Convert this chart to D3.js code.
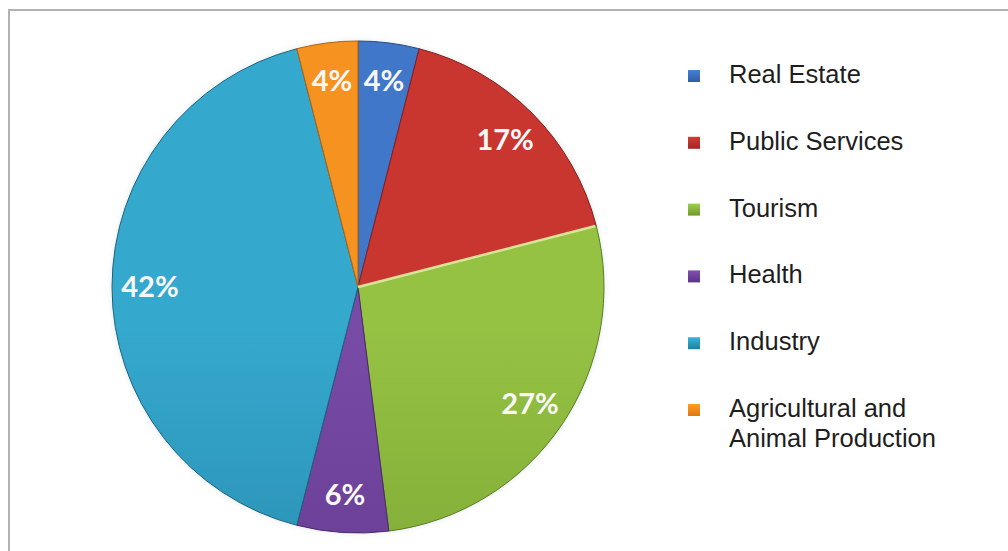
<!DOCTYPE html>
<html>
<head>
<meta charset="utf-8">
<script src="https://cdn.jsdelivr.net/npm/d3@7"></script>
<style>
  html, body { margin: 0; padding: 0; background: #ffffff; }
  svg { display: block; }
</style>
</head>
<body>
<svg id="chart" width="1008" height="551"></svg>
<script>
// Sector shares (percent), drawn clockwise from 12 o'clock
const categories = ["Real Estate", "Public Services", "Tourism", "Health", "Industry", "Agricultural and Animal Production"];
const legendLines = [["Real Estate"], ["Public Services"], ["Tourism"], ["Health"], ["Industry"], ["Agricultural and", "Animal Production"]];
const shares = [4, 17, 27, 6, 42, 4];
const shareLabels = ["4%", "17%", "27%", "6%", "42%", "4%"];
// Fill shading per slice: [lighter top, darker bottom]
const sliceColors = [
  ["#4177c8", "#2f5ca6"],
  ["#c9352f", "#a32727"],
  ["#95c243", "#6f982d"],
  ["#784ba6", "#5c3386"],
  ["#35a8ce", "#227d9e"],
  ["#f6921f", "#df7710"]
];

const W = 1008, H = 551;
const cx = 358, cy = 287, R = 246, labelR = 208;

const svg = d3.select("#chart");

// frame lines along the top and left
svg.append("line").attr("x1", 8).attr("x2", W).attr("y1", 10).attr("y2", 10)
  .attr("stroke", "#b2b2b2").attr("stroke-width", 2);
svg.append("line").attr("x1", 9).attr("x2", 9).attr("y1", 9).attr("y2", H)
  .attr("stroke", "#b2b2b2").attr("stroke-width", 2);

const defs = svg.append("defs");
sliceColors.forEach((c, i) => {
  const g = defs.append("linearGradient")
    .attr("id", "slice-grad-" + i)
    .attr("gradientUnits", "userSpaceOnUse")
    .attr("x1", 0).attr("x2", 0)
    .attr("y1", cy - R).attr("y2", cy + R);
  g.append("stop").attr("offset", "0%").attr("stop-color", c[0]);
  g.append("stop").attr("offset", "100%").attr("stop-color", c[1]);

  const kg = defs.append("linearGradient").attr("id", "key-grad-" + i)
    .attr("x1", 0).attr("x2", 0).attr("y1", 0).attr("y2", 1);
  kg.append("stop").attr("offset", "0%").attr("stop-color", d3.color(c[0]).brighter(0.2));
  kg.append("stop").attr("offset", "100%").attr("stop-color", c[1]);
});

// soft halo round the pie
const halo = defs.append("filter").attr("id", "halo")
  .attr("x", "-10%").attr("y", "-10%").attr("width", "120%").attr("height", "120%");
halo.append("feGaussianBlur").attr("stdDeviation", 2.5);

const pie = d3.pie().sort(null).value(d => d).startAngle(0).endAngle(2 * Math.PI);
const arcs = pie(shares);
const arc = d3.arc().innerRadius(0).outerRadius(R);
const labelArc = d3.arc().innerRadius(labelR).outerRadius(labelR);

const g = svg.append("g").attr("transform", `translate(${cx},${cy})`);

g.append("circle").attr("r", R + 1).attr("fill", "#a9bcc8").attr("opacity", 0.3)
  .attr("filter", "url(#halo)");

g.selectAll("path.slice")
  .data(arcs)
  .join("path")
  .attr("class", "slice")
  .attr("d", arc)
  .attr("fill", (d, i) => `url(#slice-grad-${i})`)
  .attr("stroke", (d, i) => d3.color(sliceColors[i][1]).darker(0.6))
  .attr("stroke-width", 1)
  .attr("stroke-linejoin", "round");

// bevel highlight along the Tourism slice's leading edge
const tour = arcs[2];
g.append("line")
  .attr("x1", 0).attr("y1", 0)
  .attr("x2", Math.sin(tour.startAngle) * (R - 1))
  .attr("y2", -Math.cos(tour.startAngle) * (R - 1))
  .attr("stroke", "#e4f0a6").attr("stroke-width", 2.5).attr("opacity", 0.9);

g.selectAll("text.share")
  .data(arcs)
  .join("text")
  .attr("class", "share")
  .attr("transform", d => `translate(${labelArc.centroid(d)})`)
  .attr("text-anchor", "middle")
  .attr("dy", "0.36em")
  .attr("font-family", "Lato, 'Open Sans', sans-serif")
  .attr("font-weight", 700)
  .attr("font-size", 29)
  .attr("fill", "#f8f8f8")
  .text((d, i) => shareLabels[i]);

// legend
const legendY = d3.scalePoint().domain(d3.range(categories.length)).range([83, 417]);
const legend = svg.append("g");
const items = legend.selectAll("g.item")
  .data(categories)
  .join("g")
  .attr("class", "item")
  .attr("transform", (d, i) => `translate(0,${legendY(i)})`);

items.append("rect")
  .attr("x", 688).attr("y", -13)
  .attr("width", 12).attr("height", 12)
  .attr("fill", (d, i) => `url(#key-grad-${i})`);

items.append("text")
  .attr("x", 729)
  .attr("font-family", "'Liberation Sans', Arial, sans-serif")
  .attr("font-size", 25.5)
  .attr("fill", "#1e1e1e")
  .selectAll("tspan")
  .data((d, i) => legendLines[i])
  .join("tspan")
  .attr("x", 729)
  .attr("dy", (d, j) => j === 0 ? 0 : 30)
  .text(d => d);
</script>
</body>
</html>
